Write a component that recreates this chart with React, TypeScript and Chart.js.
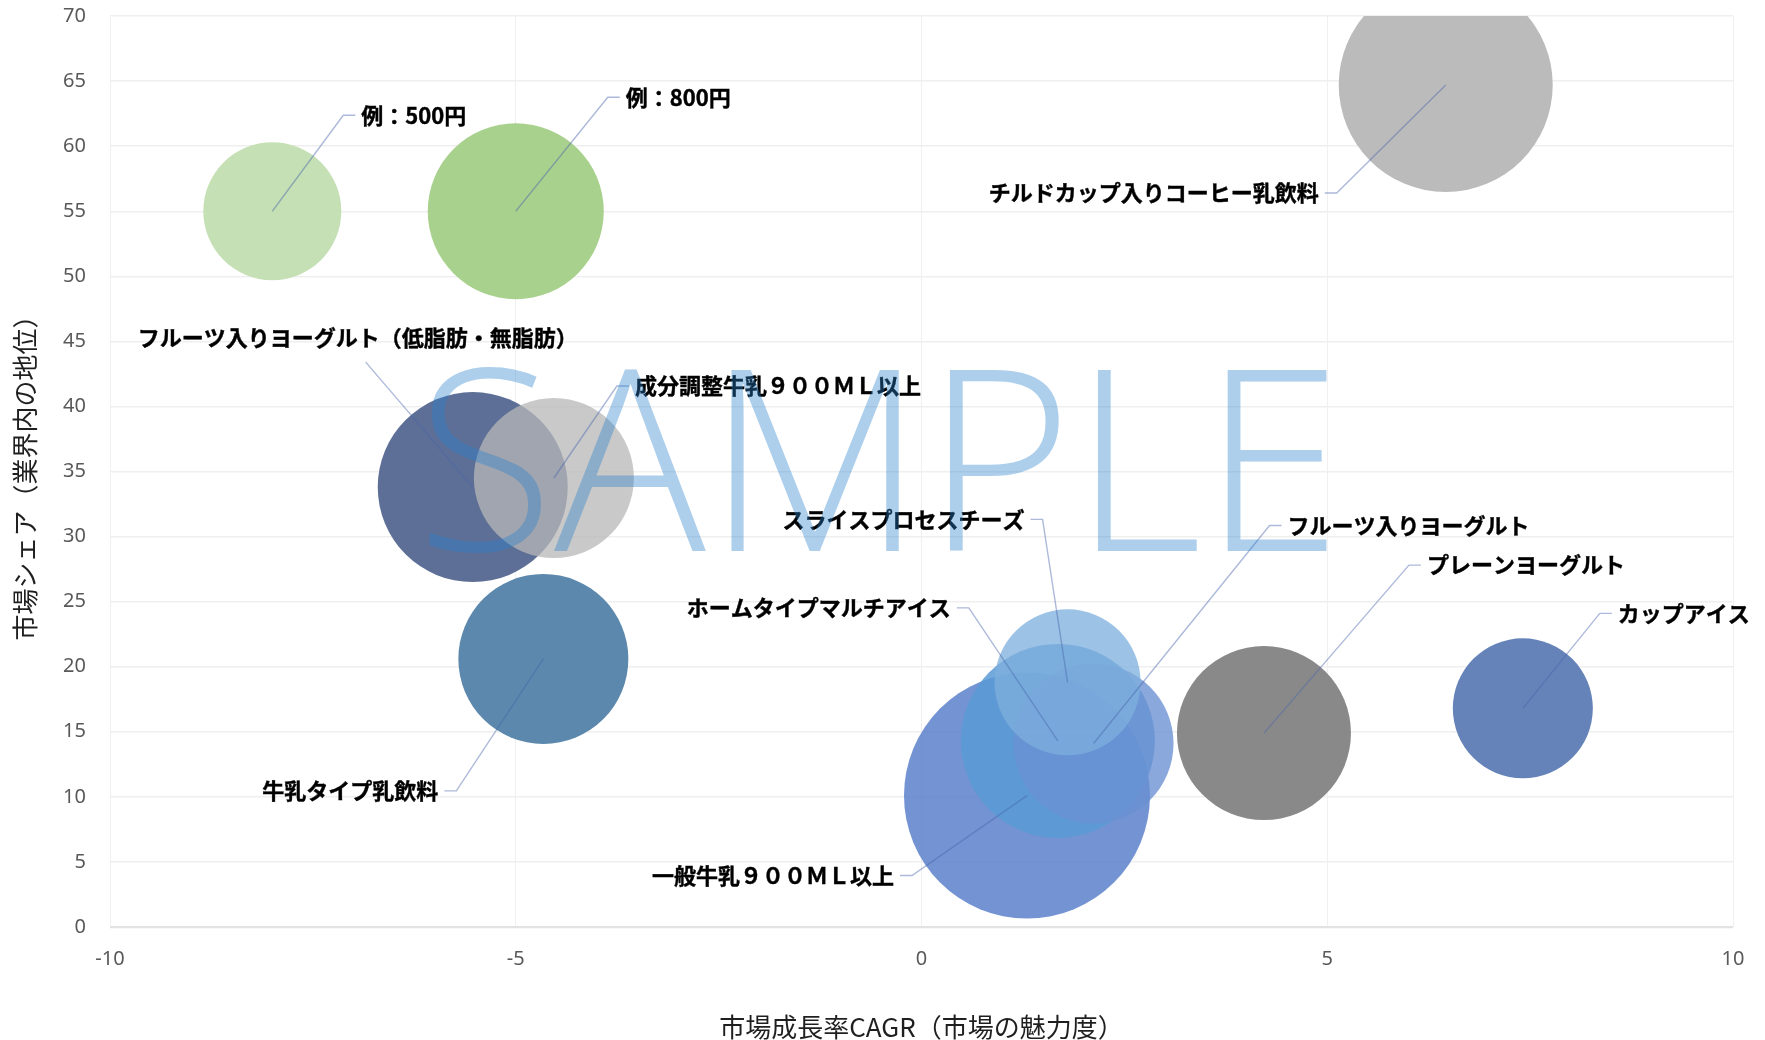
import React, { useEffect, useRef } from "react";
import { Chart, registerables } from "chart.js";

Chart.register(...registerables);

// ---- data ----
const categories = [
  "例：500円",
  "例：800円",
  "チルドカップ入りコーヒー乳飲料",
  "フルーツ入りヨーグルト（低脂肪・無脂肪）",
  "成分調整牛乳９００ＭＬ以上",
  "牛乳タイプ乳飲料",
  "一般牛乳９００ＭＬ以上",
  "ホームタイプマルチアイス",
  "フルーツ入りヨーグルト",
  "スライスプロセスチーズ",
  "プレーンヨーグルト",
  "カップアイス",
];
const marketGrowthCAGR = [-8.0, -5.0, 6.46, -5.53, -4.53, -4.66, 1.3, 1.68, 2.12, 1.8, 4.22, 7.41];
const marketShare = [55, 55, 64.7, 33.8, 34.5, 20.6, 10.1, 14.3, 14.1, 18.8, 14.9, 16.8];
const bubbleSize = [69, 88, 107, 95, 80, 85, 123, 97, 80, 73, 87, 70];

const xTickValues = [-10, -5, 0, 5, 10];
const yTickValues = [0, 5, 10, 15, 20, 25, 30, 35, 40, 45, 50, 55, 60, 65, 70];
const xTitle = "市場成長率CAGR（市場の魅力度）";
const yTitle = "市場シェア（業界内の地位）";
const watermark = "SAMPLE";

// ---- styles ----
const bubbleColors = [
  "#C5E0B4",
  "#A9D18E",
  "#BBBBBB",
  "#5D6F96",
  "rgba(183,183,183,0.75)",
  "#5B88AC",
  "rgba(80,120,200,0.8)",
  "rgba(91,155,213,0.85)",
  "rgba(107,144,211,0.79)",
  "rgba(126,175,221,0.77)",
  "#898989",
  "#6583B9",
];
// leader-line elbow offsets (px) from bubble centre and label side
const labelSide = ["right", "right", "left", "top", "right", "left", "left", "left", "right", "left", "right", "right"];
const labelDx = [71, 92, -109, -107, 63, -87, -115, -89, 176, -25, 145, 77];
const labelDy = [-96, -114, 108, -125, -92, 132, 80, -133, -218, -163, -168, -95];

const W = 1765;
const H = 1040;

const leaderPlugin = {
  id: "leaderLabels",
  afterDatasetsDraw(chart: any) {
    const meta = chart.getDatasetMeta(0);
    const ctx = chart.ctx;
    ctx.save();
    ctx.font = "bold 22px 'Noto Sans CJK JP', 'Noto Sans', sans-serif";
    ctx.textBaseline = "middle";
    meta.data.forEach((pt: any, i: number) => {
      const cx = pt.x;
      const cy = pt.y;
      const ex = cx + labelDx[i];
      const ey = cy + labelDy[i];
      const side = labelSide[i];
      ctx.strokeStyle = "rgba(70,100,170,0.45)";
      ctx.lineWidth = 1.4;
      ctx.beginPath();
      ctx.moveTo(cx, cy);
      ctx.lineTo(ex, ey);
      let tx = ex;
      let ty = ey;
      if (side === "right") {
        ctx.lineTo(ex + 12, ey);
        tx = ex + 18;
        ctx.textAlign = "left";
      } else if (side === "left") {
        ctx.lineTo(ex - 12, ey);
        tx = ex - 18;
        ctx.textAlign = "right";
      } else {
        tx = ex - 8;
        ty = ey - 24;
        ctx.textAlign = "center";
      }
      ctx.stroke();
      ctx.fillStyle = "#000000";
      ctx.strokeStyle = "#000000";
      ctx.lineWidth = 0.4;
      ctx.fillText(categories[i], tx, ty);
      ctx.strokeText(categories[i], tx, ty);
    });
    ctx.restore();
  },
};

export default function App() {
  const canvasRef = useRef<HTMLCanvasElement | null>(null);

  useEffect(() => {
    if (!canvasRef.current) return;
    const data = categories.map((_, i) => ({
      x: marketGrowthCAGR[i],
      y: marketShare[i],
      r: bubbleSize[i],
    }));
    const tickFont = { family: "'Noto Sans', sans-serif", size: 20 };
    const titleFont = { family: "'Noto Sans CJK JP', sans-serif", size: 26, lineHeight: 1 };
    const chart = new Chart(canvasRef.current, {
      type: "bubble",
      data: {
        labels: categories,
        datasets: [
          {
            label: "markets",
            data,
            backgroundColor: bubbleColors,
            borderWidth: 0,
            hoverBorderWidth: 0,
            clip: 0,
          } as any,
        ],
      },
      plugins: [leaderPlugin],
      options: {
        responsive: false,
        animation: false,
        devicePixelRatio: 1,
        layout: { autoPadding: false, padding: { top: 15, right: 32, bottom: 0, left: 0 } },
        plugins: {
          legend: { display: false },
          tooltip: { enabled: false },
        },
        scales: {
          x: {
            type: "linear",
            min: xTickValues[0],
            max: xTickValues[xTickValues.length - 1],
            afterBuildTicks: (s: any) => {
              s.ticks = xTickValues.map((v) => ({ value: v }));
            },
            ticks: { color: "#595959", font: tickFont, padding: 4 },
            grid: {
              color: "#F0F0F0",
              lineWidth: 1,
              drawTicks: true,
              tickLength: 16,
              tickColor: "rgba(0,0,0,0)",
            },
            border: { display: false },
            title: {
              display: true,
              text: xTitle,
              color: "#1F1F1F",
              font: titleFont,
              padding: { top: 0, bottom: 0 },
            },
            afterFit: (s: any) => {
              s.height = 113;
            },
          },
          y: {
            type: "linear",
            min: yTickValues[0],
            max: yTickValues[yTickValues.length - 1],
            afterBuildTicks: (s: any) => {
              s.ticks = yTickValues.map((v) => ({ value: v }));
            },
            ticks: { color: "#595959", font: tickFont, padding: 4 },
            grid: {
              color: (c: any) => (c.tick && c.tick.value === 0 ? "#E3E3E3" : "#EFEFEF"),
              lineWidth: (c: any) => (c.tick && c.tick.value === 0 ? 2.2 : 1.4),
              drawTicks: true,
              tickLength: 20,
              tickColor: "rgba(0,0,0,0)",
            },
            border: { display: false },
            title: {
              display: true,
              text: yTitle,
              color: "#1F1F1F",
              font: titleFont,
              padding: { top: 12, bottom: 0 },
            },
            afterFit: (s: any) => {
              s.width = 110;
            },
          },
        },
      } as any,
    });
    return () => chart.destroy();
  }, []);

  return (
    <div style={{ position: "fixed", left: 0, top: 0, width: W, height: H, background: "#fff", overflow: "hidden" }}>
      <canvas ref={canvasRef} width={W} height={H} style={{ width: W, height: H, display: "block" }} />
      <div
        style={{
          position: "absolute",
          left: 879,
          top: 327,
          transform: "translateX(-50%)",
          fontFamily: "'Open Sans', 'Lato', sans-serif",
          fontWeight: 300,
          fontSize: 253,
          lineHeight: 1,
          color: "rgba(40,130,205,0.38)",
          whiteSpace: "nowrap",
          pointerEvents: "none",
        }}
      >
        {watermark}
      </div>
    </div>
  );
}
